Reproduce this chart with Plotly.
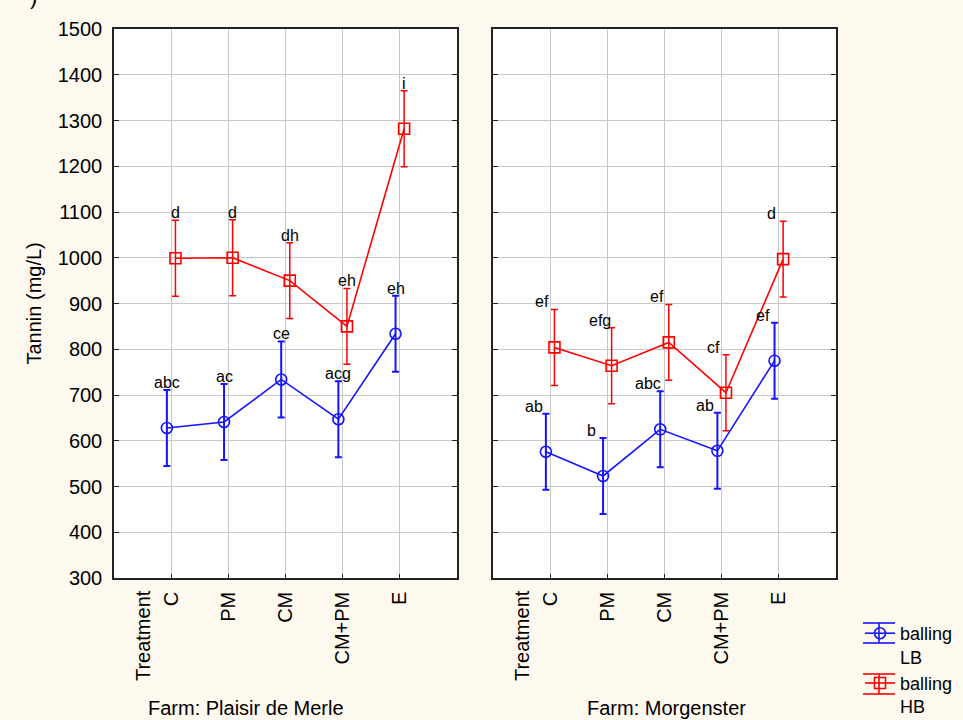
import plotly.graph_objects as go

treatments = ["C", "PM", "CM", "CM+PM", "E"]

lb_plaisir = [628, 641, 734, 647, 834]
hb_plaisir = [999, 1000, 950, 850, 1282]
lb_morg = [576, 523, 625, 578, 775]
hb_morg = [804, 764, 815, 705, 997]

err_lb_plaisir = [83, 83, 83, 83, 83]
err_hb_plaisir = [83, 83, 83, 83, 83]
err_lb_morg = [83, 83, 83, 83, 83]
err_hb_morg = [83, 83, 83, 83, 83]

lb_plaisir_letters = ["abc", "ac", "ce", "acg", "eh"]
hb_plaisir_letters = ["d", "d", "dh", "eh", "i"]
lb_morg_letters = ["ab", "b", "abc", "ab", "ef"]
hb_morg_letters = ["ef", "efg", "ef", "cf", "d"]

farms = ["Farm: Plaisir de Merle", "Farm: Morgenster"]
series_names = ["balling<br>LB", "balling<br>HB"]
y_ticks = list(range(300, 1501, 100))

FONT = "Liberation Sans, Arial, sans-serif"
BLUE = "#1515ff"
RED = "#ff0000"
BG = "#fdf9ee"
W, H = 963, 720

pos = [i + 1 for i in range(len(treatments))]
off = 0.075

fig = go.Figure()

def add_series(xaxis, yaxis, vals, errs, color, symbol, name, show, shift, thick):
    fig.add_trace(go.Scatter(
        x=[p + shift for p in pos], y=vals,
        xaxis=xaxis, yaxis=yaxis,
        mode="lines+markers",
        name=name, showlegend=show,
        line=dict(color=color, width=1.6),
        marker=dict(symbol=symbol, size=11, color=color,
                    line=dict(color=color, width=1.6)),
        error_y=dict(type="data", array=errs, visible=True, color=color,
                     thickness=thick, width=3.5),
    ))

add_series("x", "y", lb_plaisir, err_lb_plaisir, BLUE, "circle-open", series_names[0], True, -off, 2)
add_series("x", "y", hb_plaisir, err_hb_plaisir, RED, "square-open", series_names[1], True, off, 1.5)
add_series("x2", "y2", lb_morg, err_lb_morg, BLUE, "circle-open", series_names[0], False, -off, 2)
add_series("x2", "y2", hb_morg, err_hb_morg, RED, "square-open", series_names[1], False, off, 1.5)

annotations = []

def add_letters(xref, yref, vals, errs, letters, shift, xshift):
    for p, v, e, t in zip(pos, vals, errs, letters):
        annotations.append(dict(
            x=p + shift, y=v + e, xref=xref, yref=yref, text=t,
            showarrow=False, yanchor="bottom", xanchor="center",
            xshift=xshift, yshift=-3,
            font=dict(family=FONT, size=16, color="black"),
        ))

add_letters("x", "y", lb_plaisir, err_lb_plaisir, lb_plaisir_letters, -off, 0)
add_letters("x", "y", hb_plaisir, err_hb_plaisir, hb_plaisir_letters, off, 0)
add_letters("x2", "y2", lb_morg, err_lb_morg, lb_morg_letters, -off, -12)
add_letters("x2", "y2", hb_morg, err_hb_morg, hb_morg_letters, off, -12)

x1_dom = [114 / W, 457 / W]
x2_dom = [493 / W, 836 / W]
y_dom = [1 - 578 / H, 1 - 29 / H]

tick_font = dict(family=FONT, size=20, color="black")

for xr in ["x", "x2"]:
    annotations.append(dict(
        x=0.5, y=1 - 588 / H, xref=xr, yref="paper", text="Treatment",
        textangle=-90, showarrow=False, xanchor="center", yanchor="top",
        font=tick_font,
    ))

annotations.append(dict(x=246 / W, y=1 - 708 / H, xref="paper", yref="paper",
                        text=farms[0], showarrow=False, xanchor="center",
                        yanchor="middle", font=tick_font))
annotations.append(dict(x=666 / W, y=1 - 708 / H, xref="paper", yref="paper",
                        text=farms[1], showarrow=False, xanchor="center",
                        yanchor="middle", font=tick_font))
annotations.append(dict(x=34 / W, y=(y_dom[0] + y_dom[1]) / 2, xref="paper", yref="paper",
                        text="Tannin (mg/L)", textangle=-90, showarrow=False,
                        xanchor="center", yanchor="middle", font=tick_font))
annotations.append(dict(x=33 / W, y=1 + 4 / H, xref="paper", yref="paper",
                        text=")", showarrow=False, xanchor="center",
                        yanchor="middle", font=dict(family=FONT, size=22, color="black")))

# error-bar style caps on the legend symbols
shapes = []
for yc, col in [(633, BLUE), (684, RED)]:
    for dy in (-10, 10):
        shapes.append(dict(type="line", xref="paper", yref="paper",
                           x0=863 / W, x1=895 / W,
                           y0=1 - (yc + dy) / H, y1=1 - (yc + dy) / H,
                           line=dict(color=col, width=1.6)))
    shapes.append(dict(type="line", xref="paper", yref="paper",
                       x0=879 / W, x1=879 / W,
                       y0=1 - (yc - 10) / H, y1=1 - (yc + 10) / H,
                       line=dict(color=col, width=1.6)))

xaxis_common = dict(
    range=[0, 6], tickmode="array", tickvals=pos, ticktext=treatments,
    tickangle=-90, showgrid=True, gridcolor="#c8c8c8", gridwidth=1,
    showline=True, linecolor="#222222", linewidth=1.5, mirror=True,
    ticks="inside", ticklen=4, tickcolor="#222222", ticklabelstandoff=4,
    tickfont=tick_font, zeroline=False, automargin=False,
)
yaxis_common = dict(
    range=[300, 1500], tickmode="array", tickvals=y_ticks,
    showgrid=True, gridcolor="#c8c8c8", gridwidth=1,
    showline=True, linecolor="#222222", linewidth=1.5, mirror="ticks",
    ticks="inside", ticklen=5, tickcolor="#222222",
    tickfont=tick_font, zeroline=False, automargin=False, domain=y_dom,
)

fig.update_layout(
    width=W, height=H,
    margin=dict(l=0, r=0, t=0, b=0, autoexpand=False),
    paper_bgcolor=BG, plot_bgcolor="white",
    font=dict(family=FONT, color="black"),
    xaxis=dict(domain=x1_dom, anchor="y", **xaxis_common),
    xaxis2=dict(domain=x2_dom, anchor="y2", **xaxis_common),
    yaxis=dict(anchor="x", showticklabels=True, ticklabelstandoff=6, **yaxis_common),
    yaxis2=dict(anchor="x2", showticklabels=False, **yaxis_common),
    legend=dict(x=860 / W, y=1 - 615 / H, xanchor="left", yanchor="top",
                bgcolor="rgba(0,0,0,0)", font=dict(family=FONT, size=18),
                tracegroupgap=0, itemwidth=30, valign="top"),
    annotations=annotations,
    shapes=shapes,
    showlegend=True,
)

fig.write_html("out.html")
